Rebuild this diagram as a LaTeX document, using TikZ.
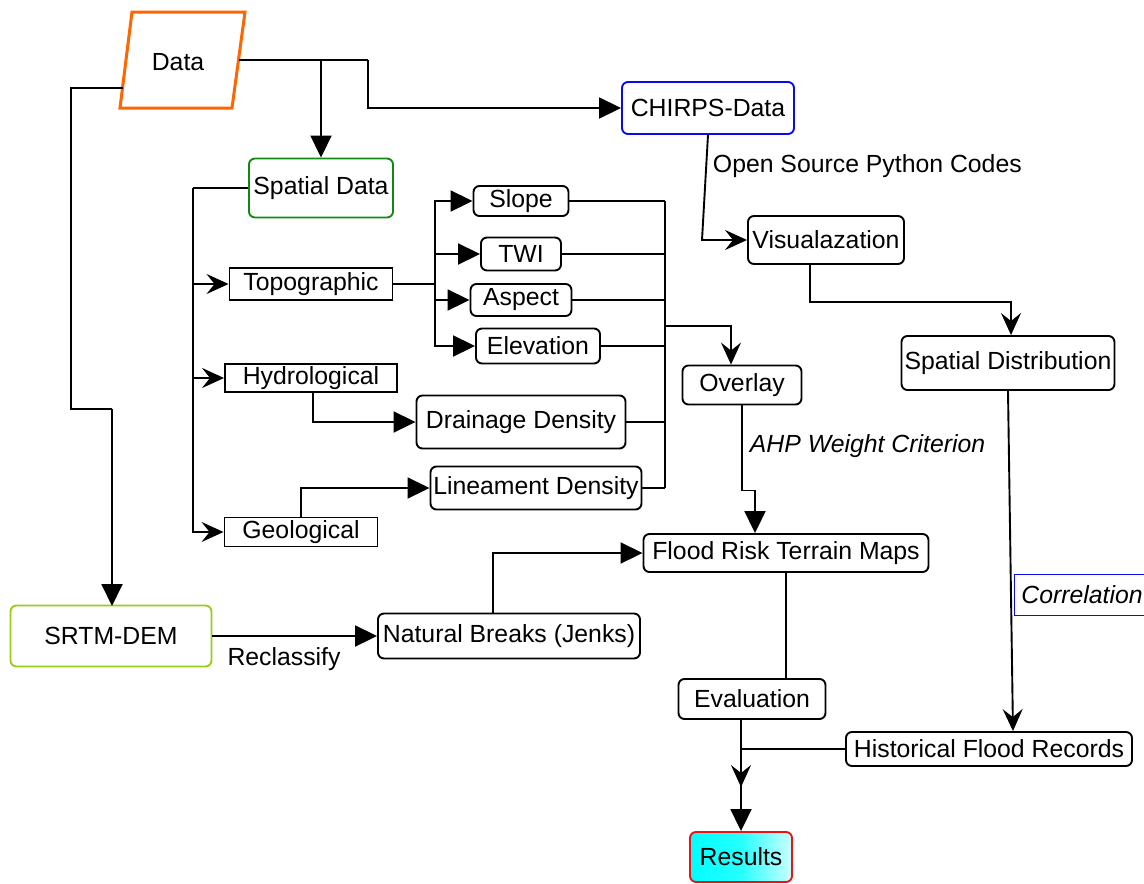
\documentclass[tikz,border=0pt]{standalone}
\usepackage{fontspec}
\setmainfont{Liberation Sans}
\usepackage{tikz}
\usetikzlibrary{arrows.meta,positioning,calc}
\definecolor{DataOrange}{HTML}{FF6600}
\definecolor{SpatGreen}{HTML}{128A12}
\definecolor{DemGreen}{HTML}{9ACD1A}
\definecolor{ChirpsBlue}{HTML}{0A0AF0}
\definecolor{ResRed}{HTML}{EE1111}

\begin{document}
\begin{tikzpicture}[
    x=1pt,y=-1pt,
    line width=1.9pt,
    base/.style={inner sep=0pt,font=\fontsize{24.8}{28}\selectfont},
    rbox/.style={base,draw,rounded corners=6pt},
    sbox/.style={base,draw},
    lbl/.style={base,anchor=west},
    tri/.style={-{Triangle[length=22pt,width=21pt]}},
    stl/.style={-{Stealth[length=22pt,width=20pt,inset=8pt]}}
  ]
  \useasboundingbox (0,0) rectangle (1144,884);
  % Data input
  \draw[DataOrange,line width=3pt] (132,12) -- (245,12) -- (232,108) -- (120,108) -- cycle;
  \node[base] (data) at (178,62) {Data};
  \coordinate (dataE) at (239,60);
  \coordinate (dataW) at (123,88);
  % Sources
  \node[rbox,draw=ChirpsBlue,minimum width=172pt,minimum height=52pt] (chirps) at (708,108) {CHIRPS-Data};
  \node[rbox,draw=SpatGreen,minimum width=144pt,minimum height=59pt] (spatial) at (321,188) {Spatial Data\hspace{6pt}};
  \node[rbox,draw=DemGreen,minimum width=201pt,minimum height=61pt] (srtm) at (111,636) {SRTM-DEM};
  % Themes
  \node[sbox,minimum width=163pt,minimum height=32pt] (topo) at (311,284) {Topographic};
  \node[sbox,minimum width=172pt,minimum height=28pt] (hydro) at (311,378) {Hydrological};
  \node[sbox,minimum width=153pt,minimum height=29pt] (geo) at (301,532) {Geological};
  % Factors
  \node[rbox,minimum width=95pt,minimum height=30pt] (slope) at (521,201) {Slope};
  \node[rbox,minimum width=80pt,minimum height=33pt] (twi) at (521,254) {TWI};
  \node[rbox,minimum width=101pt,minimum height=32pt] (aspect) at (521,300) {Aspect};
  \node[rbox,minimum width=124pt,minimum height=35pt] (elev) at (538,346) {Elevation};
  \node[rbox,minimum width=209pt,minimum height=53pt] (drain) at (521,422) {Drainage Density};
  \node[rbox,minimum width=211pt,minimum height=43pt] (linea) at (536,488) {Lineament Density};
  % Rainfall branch
  \node[rbox,minimum width=156pt,minimum height=48pt] (visual) at (826,240) {Visualazation};
  \node[rbox,minimum width=213pt,minimum height=54pt] (spdist) at (1008,363) {Spatial Distribution};
  \node[sbox,draw=ChirpsBlue,minimum width=135pt,minimum height=41pt,font=\fontsize{24.8}{28}\selectfont\itshape] (corr) at (1082,595) {Correlation};
  \node[rbox,minimum width=286pt,minimum height=34pt] (hist) at (989,749) {Historical Flood Records};
  % Analysis
  \node[rbox,minimum width=119pt,minimum height=39pt] (overlay) at (742,385) {Overlay};
  \node[rbox,minimum width=285pt,minimum height=38pt] (flood) at (786,553) {Flood Risk Terrain Maps};
  \node[rbox,minimum width=262pt,minimum height=45pt] (jenks) at (509,636) {Natural Breaks (Jenks)};
  \node[rbox,minimum width=147pt,minimum height=40pt] (evaln) at (752,699) {Evaluation};
  \node[rbox,draw=ResRed,left color=cyan,right color=cyan!20,middle color=cyan!85,minimum width=102pt,minimum height=50pt] (results) at (741,857) {Results};
  % Labels
  \node[lbl] (python) at (712,166) {Open Source Python Codes};
  \node[lbl,font=\fontsize{24.8}{28}\selectfont\itshape] (ahp) at (749,446) {AHP Weight Criterion};
  \node[base] (recl) at (284,659) {Reclassify};
  % From data
  \draw (dataE) -- (368,60);
  \draw[tri] (368,60) |- (chirps.west);
  \draw[tri] (dataE -| spatial.north) -- (spatial.north);
  \draw (dataW) -- (71,88) -- (71,409) -- (112,409);
  \draw[tri] (112,409) -- (112,606);
  % Spatial data to themes
  \coordinate (busA) at (193,188);
  \draw (spatial.west) -- (busA);
  \foreach \n in {topo,hydro,geo}
    \draw[stl] (busA) |- (\n.west);
  % Topographic factors
  \coordinate (busB) at (435,284);
  \draw (topo.east) -- (busB);
  \foreach \n in {slope,twi,aspect,elev}
    \draw[tri] (busB) |- (\n.west);
  \draw[tri] ($(hydro.south)+(2,0)$) |- (drain.west);
  \draw[tri] (geo.north) |- (linea.west);
  % Factors to overlay
  \coordinate (busC) at (665,201);
  \coordinate (busD) at (665,326);
  \foreach \n in {slope,twi,aspect,elev,drain,linea}
    \draw (\n.east) -- (\n.east -| busC);
  \draw (busC) -- (busC |- linea.east);
  \draw[stl] (busD) -| ($(overlay.north)+(-11,0)$);
  \draw[tri] (overlay.south) -- ++(0,85) -| ($(flood.north)+(-31,0)$);
  % Rainfall
  \draw[stl] (chirps.south) -- ($(chirps.south |- visual.west)+(-6,0)$) -- (visual.west);
  \draw[stl] ($(visual.south)+(-16,0)$) -- ++(0,37) -| ($(spdist.north)+(3,0)$);
  \draw[stl] (spdist.south) -- ($(hist.north)+(24,0)$);
  % DEM branch
  \draw[tri] (srtm.east) -- (jenks.west);
  \draw[tri] ($(jenks.north)+(-16,0)$) |- (flood.west);
  % Results
  \draw (flood.south) -- (flood.south |- evaln.north);
  \draw[stl] (results.north |- evaln.south) -- ($(results.north)+(0,-44)$);
  \draw[tri] (hist.west) -| (results.north);
\end{tikzpicture}
\end{document}
